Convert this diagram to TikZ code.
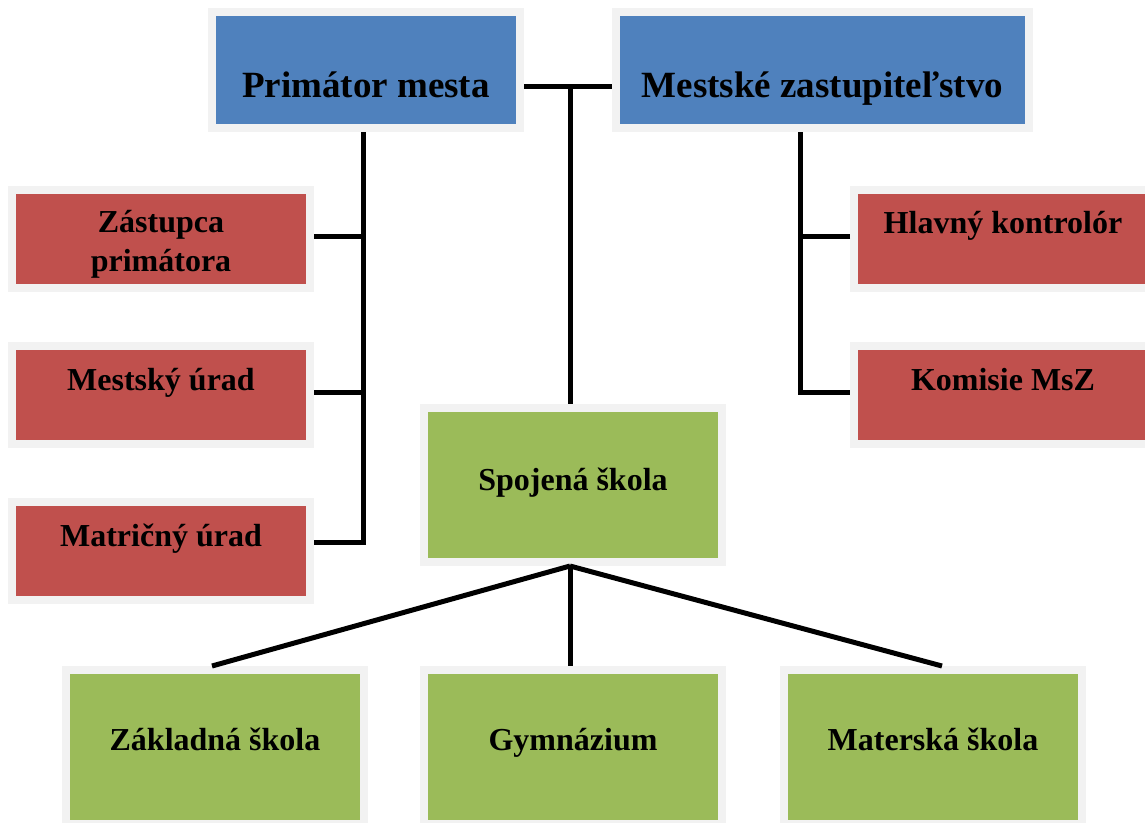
\documentclass[tikz,border=0pt]{standalone}
\usepackage{fontspec}
\setmainfont{Liberation Serif}
\usepackage{tikz}
\usetikzlibrary{positioning}
\definecolor{boxgray}{HTML}{F2F2F2}
\definecolor{topblue}{HTML}{4F81BD}
\definecolor{unitred}{HTML}{C0504D}
\definecolor{schgreen}{HTML}{9BBB59}
\begin{document}
\begin{tikzpicture}[x=1pt, y=-1pt,
  box/.style={rectangle, draw=boxgray, line width=8pt, inner sep=0pt,
              align=center, font=\bfseries\fontsize{32}{39}\selectfont},
  topbox/.style={box, fill=topblue, minimum width=#1, minimum height=116,
                 font=\bfseries\fontsize{37}{44}\selectfont,
                 text height=54pt, text depth=0pt},
  redbox/.style={box, fill=unitred, minimum width=298, minimum height=98},
  grnbox/.style={box, fill=schgreen, minimum width=298, minimum height=154},
  conn/.style={line width=5pt, black},
]
  \useasboundingbox (0,0) rectangle (1145,822);

  \node[topbox=308] (prim) at (366,70)   {Primátor mesta};
  \node[topbox=413] (zast) at (822.5,70) {Mestské zastupiteľstvo};

  \node[redbox, text height=65pt, text depth=0pt] (zas) at (161,239) {Zástupca\\primátora};
  \node[redbox, text height=0pt, text depth=10pt] (urad)  at (161,395)  {Mestský úrad};
  \node[redbox, text height=0pt, text depth=10pt] (matr)  at (161,551)  {Matričný úrad};
  \node[redbox, text height=0pt, text depth=12pt] (kontr) at (1003,239) {Hlavný kontrolór};
  \node[redbox, text height=0pt, text depth=10pt] (komis) at (1003,395) {Komisie MsZ};

  \node[grnbox, text height=11pt, text depth=0pt] (spoj)  at (573,485) {Spojená škola};
  \node[grnbox, text height=7pt,  text depth=0pt] (zakl)  at (215,747) {Základná škola};
  \node[grnbox, text height=7pt,  text depth=0pt] (gymn)  at (573,747) {Gymnázium};
  \node[grnbox, text height=7pt,  text depth=0pt] (mater) at (933,747) {Materská škola};

  \coordinate (tj)  at (570,86);
  \coordinate (lt)  at ([xshift=-3pt]prim.south);
  \coordinate (rt)  at ([xshift=-22.5pt]zast.south);
  \coordinate (hub) at ([xshift=-3pt]spoj.south);

  \draw[conn] ([yshift=-16pt]prim.east) -- ([yshift=-16pt]zast.west);
  \draw[conn] (tj) -- (tj |- spoj.north);

  \draw[conn] (lt) |- ([yshift=9pt]matr.east);
  \draw[conn] ([yshift=3pt]zas.east) -| (lt);
  \draw[conn] ([yshift=3pt]urad.east) -| (lt);

  \draw[conn] (rt) |- ([yshift=3pt]komis.west);
  \draw[conn] ([yshift=3pt]kontr.west) -| (rt);

  \draw[conn] (hub) -- ([xshift=-3pt]zakl.north);
  \draw[conn] (hub) -- ([xshift=-3pt]gymn.north);
  \draw[conn] (hub) -- ([xshift=9pt]mater.north);
\end{tikzpicture}
\end{document}
